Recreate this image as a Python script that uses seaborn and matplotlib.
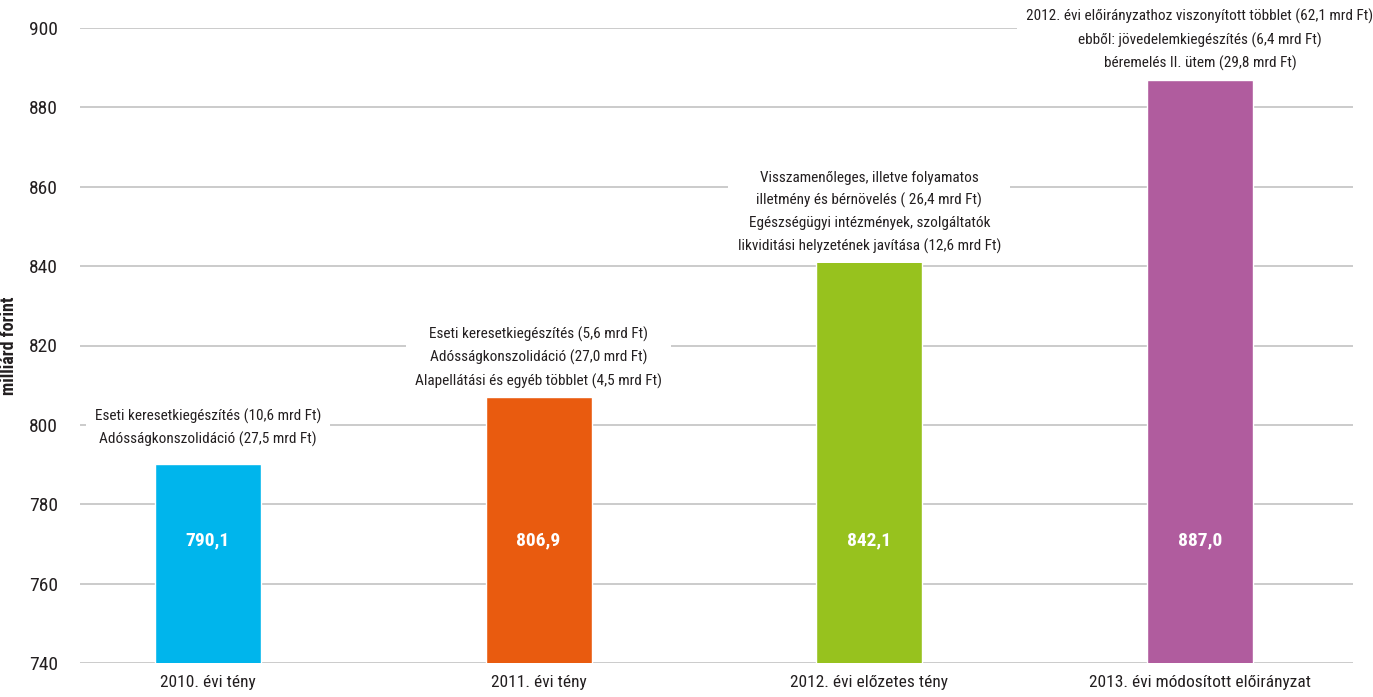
import matplotlib
matplotlib.use("Agg")
import matplotlib.pyplot as plt
from matplotlib import font_manager
import seaborn as sns
import pandas as pd

categories = ["2010. évi tény", "2011. évi tény", "2012. évi előzetes tény",
              "2013. évi módosított előirányzat"]
values = [790.1, 806.9, 842.1, 887.0]
value_labels = ["790,1", "806,9", "842,1", "887,0"]
notes = [
    "Eseti keresetkiegészítés (10,6 mrd Ft)\nAdósságkonszolidáció (27,5 mrd Ft)",
    "Eseti keresetkiegészítés (5,6 mrd Ft)\nAdósságkonszolidáció (27,0 mrd Ft)\n"
    "Alapellátási és egyéb többlet (4,5 mrd Ft)",
    "Visszamenőleges, illetve folyamatos\nilletmény és bérnövelés ( 26,4 mrd Ft)\n"
    "Egészségügyi intézmények, szolgáltatók\nlikviditási helyzetének javítása (12,6 mrd Ft)",
    "2012. évi előirányzathoz viszonyított többlet (62,1 mrd Ft)\n"
    "ebből: jövedelemkiegészítés (6,4 mrd Ft)\nbéremelés II. ütem (29,8 mrd Ft)",
]
y_ticks = [740, 760, 780, 800, 820, 840, 860, 880, 900]
colors = ["#00B5EC", "#E95B0F", "#97C21E", "#B05C9E"]

sns.set_theme(style="white")

# pick a narrow sans family if one is available
family = "DejaVu Sans"
for cand in ["Liberation Sans Narrow", "Roboto Condensed", "Open Sans Condensed",
             "Liberation Sans"]:
    try:
        font_manager.findfont(cand, fallback_to_default=False)
        family = cand
        break
    except Exception:
        continue
plt.rcParams["font.family"] = [family, "DejaVu Sans"]

TEXT = "#231F20"
df = pd.DataFrame({"kat": categories, "ertek": values})

fig = plt.figure(figsize=(13.73, 6.97), dpi=100)
ax = fig.add_axes([80 / 1373, 1 - 663 / 697, 1273 / 1373, 635 / 697])

sns.barplot(data=df, x="kat", y="ertek", hue="kat", palette=colors,
            width=0.32, legend=False, ax=ax, saturation=1, zorder=3)

ax.set_ylim(740, 900)
ax.set_xlim(-0.387, 3.463)
ax.set_yticks(y_ticks)
ax.set_yticklabels([str(t) for t in y_ticks], fontsize=14, color=TEXT)
ax.tick_params(axis="y", length=0, pad=16)
ax.tick_params(axis="x", length=0, pad=9, labelsize=12.5, labelcolor=TEXT)
ax.set_xlabel("")
ax.set_ylabel("milliárd forint", fontsize=13, fontweight="bold", color=TEXT)
ax.yaxis.set_label_coords(-(80 - 18) / 1273, 0.5)

for t in y_ticks:
    ax.axhline(t, color="#BDBDBD", lw=1.1, zorder=1)
for s in ax.spines.values():
    s.set_visible(False)

offsets = [12, 6, 3, 6]
for i, (v, lab, note) in enumerate(zip(values, value_labels, notes)):
    ax.text(i, 771, lab, ha="center", va="center", color="white",
            fontsize=14, fontweight="bold", zorder=4)
    ax.annotate(note, xy=(i, v), xytext=(0, offsets[i]), textcoords="offset points",
                ha="center", va="bottom", fontsize=11, color=TEXT,
                linespacing=1.7, zorder=5, annotation_clip=False,
                bbox=dict(boxstyle="square,pad=0.6", fc="white", ec="none"))

fig.savefig("out.png", dpi=100)
